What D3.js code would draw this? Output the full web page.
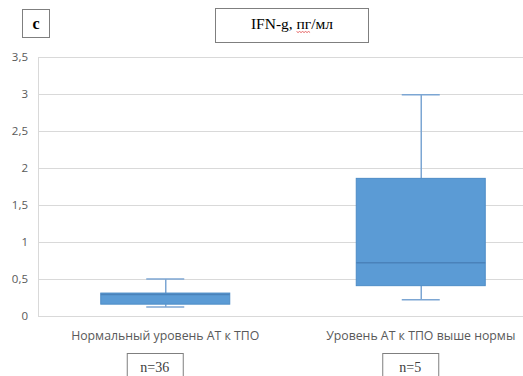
<!DOCTYPE html>
<html>
<head>
<meta charset="utf-8">
<script src="https://cdn.jsdelivr.net/npm/d3@7/dist/d3.min.js"></script>
<style>
  html, body { margin: 0; padding: 0; background: #fff; }
  svg { display: block; }
</style>
</head>
<body>
<svg id="chart" width="523" height="376"></svg>
<script>
// Groups and their box-plot statistics (IFN-g, pg/ml)
const categories = ["Нормальный уровень АТ к ТПО", "Уровень АТ к ТПО выше нормы"];
const groupSizes = ["n=36", "n=5"];
const whiskerLow = [0.12, 0.22];
const quartile1 = [0.16, 0.41];
const medians = [0.29, 0.72];
const quartile3 = [0.31, 1.86];
const whiskerHigh = [0.50, 2.99];
const yTicks = [0, 0.5, 1, 1.5, 2, 2.5, 3, 3.5];
const panelLetter = "c";

const svg = d3.select("#chart");
const W = 523;

// Category band scale: each group occupies one band of the plot area
const x = d3.scaleBand()
  .domain(categories)
  .range([38, 549])
  .paddingInner(0)
  .paddingOuter(0);
const cx = i => x(categories[i]) + x.bandwidth() / 2 - 0.5;

const y = d3.scaleLinear()
  .domain([0, 3.5])
  .range([316, 57]);

const fmt = d => String(d).replace(".", ",");

// Grid lines
svg.append("g")
  .selectAll("line")
  .data(yTicks)
  .join("line")
  .attr("x1", 38).attr("x2", W)
  .attr("y1", d => Math.round(y(d)) + 0.5)
  .attr("y2", d => Math.round(y(d)) + 0.5)
  .attr("stroke", "#d9d9d9")
  .attr("stroke-width", 1);

// Left axis line
svg.append("line")
  .attr("x1", 38.5).attr("x2", 38.5)
  .attr("y1", y(3.5)).attr("y2", y(0))
  .attr("stroke", "#d9d9d9");

// Y axis labels
const yAxis = d3.axisLeft(y).tickValues(yTicks).tickFormat(fmt).tickSize(0).tickPadding(10);
const yg = svg.append("g").attr("transform", "translate(38,0)").call(yAxis);
yg.select(".domain").remove();
yg.selectAll("text")
  .attr("fill", "#595959")
  .style("font-family", "'Open Sans', 'Liberation Sans', sans-serif")
  .style("font-size", "11.5px");

const boxW = 129, capW = 38;
const whiskerColor = "#7ca6d3";

const boxes = svg.append("g").selectAll("g")
  .data(categories)
  .join("g");

// Whiskers
boxes.append("line")
  .attr("x1", (d, i) => cx(i) + 0.5).attr("x2", (d, i) => cx(i) + 0.5)
  .attr("y1", (d, i) => y(whiskerHigh[i])).attr("y2", (d, i) => y(quartile3[i]))
  .attr("stroke", whiskerColor).attr("stroke-width", 1.5);
boxes.append("line")
  .attr("x1", (d, i) => cx(i) + 0.5).attr("x2", (d, i) => cx(i) + 0.5)
  .attr("y1", (d, i) => y(quartile1[i])).attr("y2", (d, i) => y(whiskerLow[i]))
  .attr("stroke", whiskerColor).attr("stroke-width", 1.5);
// Caps
[whiskerHigh, whiskerLow].forEach(arr => {
  boxes.append("line")
    .attr("x1", (d, i) => cx(i) - capW / 2).attr("x2", (d, i) => cx(i) + capW / 2)
    .attr("y1", (d, i) => y(arr[i])).attr("y2", (d, i) => y(arr[i]))
    .attr("stroke", whiskerColor).attr("stroke-width", 1.5);
});

// Boxes (Q1..Q3)
boxes.append("rect")
  .attr("x", (d, i) => cx(i) - boxW / 2)
  .attr("width", boxW)
  .attr("y", (d, i) => y(quartile3[i]))
  .attr("height", (d, i) => y(quartile1[i]) - y(quartile3[i]))
  .attr("fill", "#5b9bd5")
  .attr("stroke", "#4d8cc6")
  .attr("stroke-width", 1);

// Medians
boxes.append("line")
  .attr("x1", (d, i) => cx(i) - boxW / 2).attr("x2", (d, i) => cx(i) + boxW / 2)
  .attr("y1", (d, i) => y(medians[i])).attr("y2", (d, i) => y(medians[i]))
  .attr("stroke", "#4a82ba").attr("stroke-width", 1.5);

// Category labels
svg.append("g").selectAll("text")
  .data(categories)
  .join("text")
  .attr("x", (d, i) => cx(i))
  .attr("y", 340)
  .attr("text-anchor", "middle")
  .attr("fill", "#595959")
  .style("font-family", "'Open Sans', 'Liberation Sans', sans-serif")
  .style("font-size", "12.3px")
  .text(d => d);

// Group size boxes
const nBoxes = svg.append("g").selectAll("g")
  .data(groupSizes)
  .join("g");
nBoxes.append("rect")
  .attr("x", (d, i) => cx(i) - 38)
  .attr("y", 353.5)
  .attr("width", 56)
  .attr("height", 30)
  .attr("fill", "#fff")
  .attr("stroke", "#7f7f7f");
nBoxes.append("text")
  .attr("x", (d, i) => cx(i) - 10.5)
  .attr("y", 372)
  .attr("text-anchor", "middle")
  .attr("fill", "#404040")
  .style("font-family", "'Liberation Serif', 'DejaVu Serif', serif")
  .style("font-size", "14px")
  .text(d => d);

// Panel letter
svg.append("rect")
  .attr("x", 22.5).attr("y", 9.5).attr("width", 27).attr("height", 28)
  .attr("fill", "#fff").attr("stroke", "#7f7f7f");
svg.append("text")
  .attr("x", 36).attr("y", 29)
  .attr("text-anchor", "middle")
  .attr("fill", "#000")
  .style("font-family", "'Liberation Serif', serif")
  .style("font-weight", "bold")
  .style("font-size", "16px")
  .text(panelLetter);

// Title box
svg.append("rect")
  .attr("x", 215.5).attr("y", 8.5).attr("width", 153).attr("height", 34)
  .attr("fill", "#fff").attr("stroke", "#7f7f7f");
const title = svg.append("text")
  .attr("x", 292).attr("y", 29)
  .attr("text-anchor", "middle")
  .attr("fill", "#000")
  .style("font-family", "'Liberation Serif', serif")
  .style("font-size", "15.5px");
title.append("tspan").text("IFN-g, ");
title.append("tspan").text("пг");
title.append("tspan").text("/мл");

// Spell-check squiggle under the unit abbreviation
const t = title.node();
const start = t.getStartPositionOfChar(7);
const end = t.getEndPositionOfChar(8);
const sq = [];
for (let xx = start.x; xx <= end.x; xx += 1.5) {
  sq.push([xx, 31.5 + ((Math.round((xx - start.x) / 1.5)) % 2 ? 1 : 0)]);
}
svg.append("path")
  .attr("d", d3.line()(sq))
  .attr("fill", "none")
  .attr("stroke", "#e04040")
  .attr("stroke-width", 0.8);
</script>
</body>
</html>
